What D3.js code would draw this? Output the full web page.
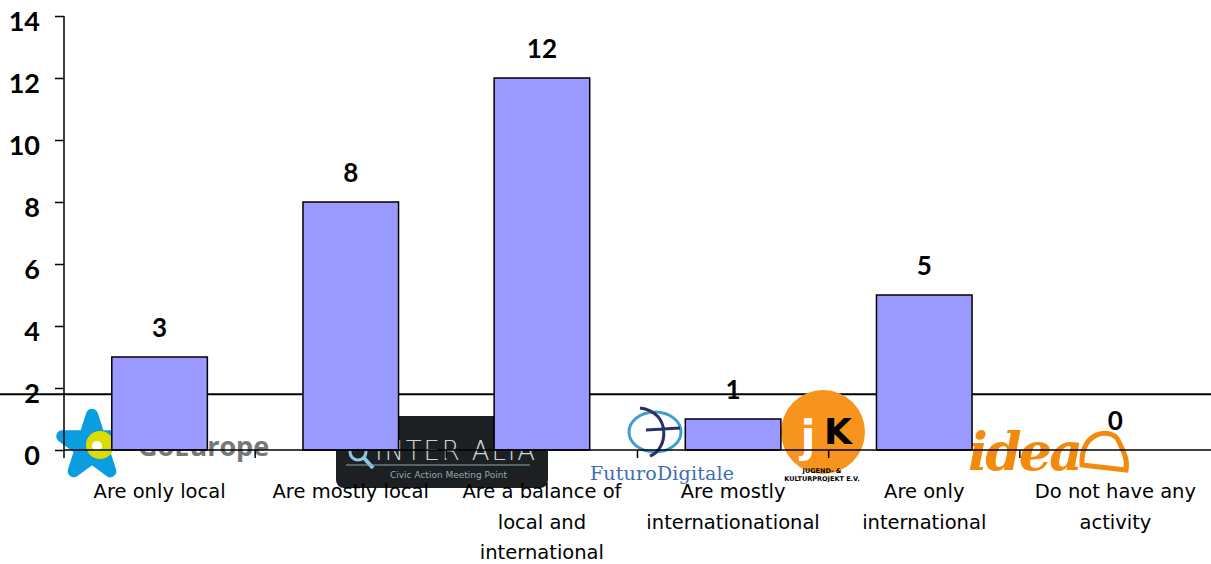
<!DOCTYPE html>
<html>
<head>
<meta charset="utf-8">
<script src="https://cdn.jsdelivr.net/npm/d3@7"></script>
<style>
  body { margin: 0; background: #fff; }
  svg { display: block; }
  .tick-label { font-family: Lato, "Open Sans", sans-serif; font-weight: bold; font-size: 27px; }
  .value-label { font-family: Lato, "Open Sans", sans-serif; font-weight: bold; font-size: 26px; }
  .cat-label { font-family: "DejaVu Sans", Verdana, sans-serif; font-size: 19.5px; }
</style>
</head>
<body>
<div id="chart"></div>
<script>
// data
var categories = [
  ["Are only local"],
  ["Are mostly local"],
  ["Are a balance of", "local and", "international"],
  ["Are mostly", "internationational"],
  ["Are only", "international"],
  ["Do not have any", "activity"]
];
var values = [3, 8, 12, 1, 5, 0];
var yTicks = [0, 2, 4, 6, 8, 10, 12, 14];

var W = 1211, H = 564;
var margin = { top: 16, right: 0, bottom: 114, left: 64 };
var height = H - margin.top - margin.bottom;

var svg = d3.select("#chart").append("svg")
    .attr("width", W)
    .attr("height", H);

var x = d3.scaleBand()
    .domain(d3.range(values.length))
    .range([margin.left, W - margin.right])
    .paddingInner(0.5)
    .paddingOuter(0.25);

var band = (W - margin.right - margin.left) / values.length;

var y = d3.scaleLinear()
    .domain([0, 14])
    .range([margin.top + height, margin.top]);

// stray horizontal rule from the original slide
svg.append("line")
    .attr("x1", 0).attr("x2", W)
    .attr("y1", y(1.8)).attr("y2", y(1.8))
    .attr("stroke", "#000").attr("stroke-width", 2);

// --- logos (rough sketches) ---
var logos = svg.append("g").attr("class", "logos");

// GoEurope
var star = d3.symbol().type(d3.symbolStar).size(1100);
logos.append("path")
    .attr("d", star())
    .attr("transform", "translate(92,446)")
    .attr("fill", "#0a9ee0")
    .attr("stroke", "#0a9ee0").attr("stroke-width", 12).attr("stroke-linejoin", "round");
logos.append("circle").attr("cx", 100).attr("cy", 445).attr("r", 14).attr("fill", "#dcdc00");
logos.append("circle").attr("cx", 97).attr("cy", 446).attr("r", 5).attr("fill", "#fff");
logos.append("text")
    .attr("x", 138).attr("y", 456)
    .attr("font-family", "Open Sans, sans-serif").attr("font-weight", "bold").attr("font-size", 27)
    .attr("fill", "#777")
    .text("GoEurope");

// Inter Alia
logos.append("rect")
    .attr("x", 336).attr("y", 416).attr("width", 212).attr("height", 72).attr("rx", 8)
    .attr("fill", "#1c2022");
logos.append("circle").attr("cx", 358).attr("cy", 452).attr("r", 8)
    .attr("fill", "none").attr("stroke", "#8cc6e0").attr("stroke-width", 3);
logos.append("line").attr("x1", 364).attr("y1", 458).attr("x2", 373).attr("y2", 468)
    .attr("stroke", "#8cc6e0").attr("stroke-width", 4);
logos.append("text")
    .attr("x", 375).attr("y", 460)
    .attr("font-family", "DejaVu Sans, sans-serif").attr("font-size", 26).attr("font-weight", 200)
    .attr("fill", "#c9d3d8").attr("textLength", 160)
    .text("INTER ALIA");
logos.append("line").attr("x1", 346).attr("x2", 530).attr("y1", 465).attr("y2", 465)
    .attr("stroke", "#8aa8b8").attr("stroke-width", 1);
logos.append("text")
    .attr("x", 390).attr("y", 478)
    .attr("font-family", "DejaVu Sans, sans-serif").attr("font-size", 9)
    .attr("fill", "#9aa6ac")
    .text("Civic Action Meeting Point");

// FuturoDigitale
logos.append("ellipse").attr("cx", 655).attr("cy", 432).attr("rx", 26).attr("ry", 20)
    .attr("fill", "none").attr("stroke", "#3aa0d0").attr("stroke-width", 3);
logos.append("path")
    .attr("d", "M640,408 C672,412 668,450 650,456 M646,430 L680,428")
    .attr("fill", "none").attr("stroke", "#2a2f6a").attr("stroke-width", 3);
logos.append("text")
    .attr("x", 590).attr("y", 480)
    .attr("font-family", "DejaVu Serif, serif").attr("font-size", 19)
    .attr("fill", "#3d6fb0").attr("textLength", 144)
    .text("FuturoDigitale");

// Jugend- & Kulturprojekt
logos.append("circle").attr("cx", 823).attr("cy", 432).attr("r", 42).attr("fill", "#f7941d");
logos.append("text")
    .attr("x", 808).attr("y", 452).attr("text-anchor", "middle")
    .attr("font-family", "DejaVu Sans, sans-serif").attr("font-weight", "bold").attr("font-size", 44)
    .attr("fill", "#fff")
    .text("j");
logos.append("text")
    .attr("x", 838).attr("y", 444).attr("text-anchor", "middle")
    .attr("font-family", "DejaVu Sans, sans-serif").attr("font-weight", "bold").attr("font-size", 36)
    .attr("fill", "#000")
    .text("K");
logos.append("text")
    .attr("x", 822).attr("y", 473).attr("text-anchor", "middle")
    .attr("font-family", "DejaVu Sans, sans-serif").attr("font-weight", "bold").attr("font-size", 6.5)
    .text("JUGEND- &");
logos.append("text")
    .attr("x", 822).attr("y", 481).attr("text-anchor", "middle")
    .attr("font-family", "DejaVu Sans, sans-serif").attr("font-weight", "bold").attr("font-size", 6.5)
    .text("KULTURPROJEKT E.V.");

// idea
logos.append("text")
    .attr("x", 968).attr("y", 470)
    .attr("font-family", "DejaVu Serif, serif").attr("font-style", "italic").attr("font-weight", "bold").attr("font-size", 52)
    .attr("fill", "#f28a0c").attr("textLength", 115)
    .text("idea");
logos.append("path")
    .attr("d", "M1082,465 C1080,430 1112,428 1118,440 C1124,452 1128,460 1126,470 Z")
    .attr("fill", "none").attr("stroke", "#f28a0c").attr("stroke-width", 5);

// --- bars ---
svg.selectAll("rect.bar")
    .data(values)
    .enter()
    .append("rect")
    .attr("class", "bar")
    .attr("x", function(d, i) { return x(i); })
    .attr("y", function(d) { return y(d); })
    .attr("width", x.bandwidth())
    .attr("height", function(d) { return y(0) - y(d); })
    .attr("fill", "#9999ff")
    .attr("stroke", "#000")
    .attr("stroke-width", 1.5);

// value labels
svg.selectAll("text.value-label")
    .data(values)
    .enter()
    .append("text")
    .attr("class", "value-label")
    .attr("x", function(d, i) { return x(i) + x.bandwidth() / 2; })
    .attr("y", function(d) { return y(d) - 20; })
    .attr("text-anchor", "middle")
    .text(function(d) { return d; });

// y axis
var yAxis = d3.axisLeft(y).tickValues(yTicks).tickSize(9).tickPadding(15);
var gy = svg.append("g")
    .attr("transform", "translate(" + margin.left + ",0)")
    .call(yAxis);
gy.select(".domain").remove();
gy.selectAll(".tick line").attr("stroke", "#000").attr("stroke-width", 1.5);
gy.selectAll(".tick text").attr("class", "tick-label").attr("dy", "0.55em");
svg.append("line")
    .attr("x1", margin.left).attr("x2", margin.left)
    .attr("y1", margin.top).attr("y2", y(0) + 8)
    .attr("stroke", "#000").attr("stroke-width", 1.5);

// x axis baseline and boundary ticks
svg.append("line")
    .attr("x1", margin.left).attr("x2", W)
    .attr("y1", y(0)).attr("y2", y(0))
    .attr("stroke", "#000").attr("stroke-width", 1.5);
svg.selectAll("line.xtick")
    .data(d3.range(1, values.length))
    .enter()
    .append("line")
    .attr("class", "xtick")
    .attr("x1", function(i) { return margin.left + i * band; })
    .attr("x2", function(i) { return margin.left + i * band; })
    .attr("y1", y(0)).attr("y2", y(0) + 8)
    .attr("stroke", "#000").attr("stroke-width", 1.5);

// category labels
var cats = svg.selectAll("text.cat-label")
    .data(categories)
    .enter()
    .append("text")
    .attr("class", "cat-label")
    .attr("text-anchor", "middle")
    .attr("x", function(d, i) { return x(i) + x.bandwidth() / 2; })
    .attr("y", 498);
cats.selectAll("tspan")
    .data(function(d, i) { return d.map(function(t) { return { t: t, i: i }; }); })
    .enter()
    .append("tspan")
    .attr("x", function(d) { return x(d.i) + x.bandwidth() / 2; })
    .attr("dy", function(d, k) { return k === 0 ? 0 : 30.5; })
    .text(function(d) { return d.t; });
</script>
</body>
</html>
